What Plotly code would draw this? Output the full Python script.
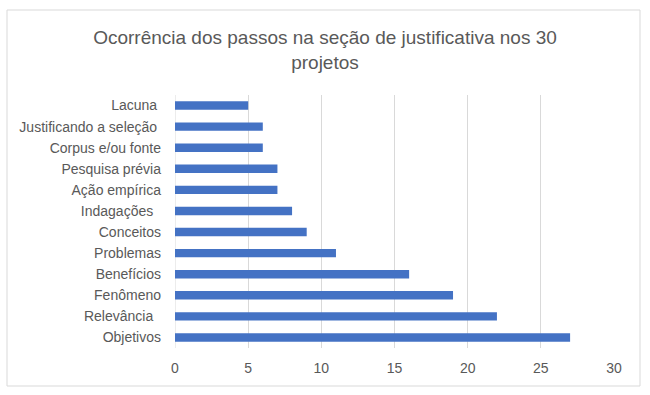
import plotly.graph_objects as go

categories = ["Lacuna\u00a0", "Justificando a seleção\u00a0", "Corpus e/ou fonte", "Pesquisa prévia",
              "Ação empírica", "Indagações\u00a0\u00a0", "Conceitos", "Problemas", "Benefícios",
              "Fenômeno", "Relevância\u00a0\u00a0", "Objetivos"]
values = [5, 6, 6, 7, 7, 8, 9, 11, 16, 19, 22, 27]
x_ticks = [0, 5, 10, 15, 20, 25, 30]

W, H = 650, 395
L, R, T, B = 175, 36, 95, 47
pw, ph = W - L - R, H - T - B

fig = go.Figure(go.Bar(
    y=categories, x=values, orientation="h",
    marker=dict(color="#4472C4", line=dict(width=0)),
    width=0.4,
))

def px_to_paper_x(px):
    return (px - L) / pw

def px_to_paper_y(py):
    return (H - B - py) / ph

fig.update_layout(
    width=W, height=H,
    margin=dict(l=L, r=R, t=T, b=B, autoexpand=False),
    paper_bgcolor="white", plot_bgcolor="white",
    font=dict(family="Liberation Sans, Arial, sans-serif", color="#595959", size=13),
    title=dict(text="Ocorrência dos passos na seção de justificativa nos 30<br>projetos",
               x=0.5, xref="container", xanchor="center",
               y=1 - 44 / H, yref="container", yanchor="top",
               font=dict(size=19, color="#595959")),
    xaxis=dict(range=[0, 30], tickvals=x_ticks, showgrid=True, gridcolor="#D9D9D9",
               gridwidth=1, zeroline=False, showline=False, ticks="", automargin=False,
               tickfont=dict(size=14, color="#595959"), ticklabelstandoff=10),
    yaxis=dict(autorange="reversed", showgrid=False, zeroline=False, showline=False,
               ticks="", automargin=False, tickfont=dict(size=14, color="#595959"),
               ticklabelstandoff=13),
    showlegend=False,
    shapes=[dict(type="rect", xref="paper", yref="paper",
                 x0=px_to_paper_x(7), x1=px_to_paper_x(640),
                 y0=px_to_paper_y(386), y1=px_to_paper_y(10),
                 line=dict(color="#D9D9D9", width=1), fillcolor="rgba(0,0,0,0)", layer="below"),
            dict(type="line", xref="x", yref="paper", x0=0, x1=0, y0=0, y1=1,
                 line=dict(color="#D9D9D9", width=1), layer="below")],
)

fig.write_html("out.html", config={"displayModeBar": False},
               post_script="document.body.style.margin='0';")
